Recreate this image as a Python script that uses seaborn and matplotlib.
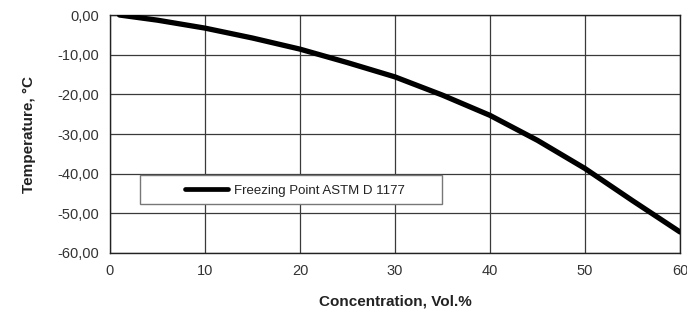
import matplotlib
matplotlib.use("Agg")
import matplotlib.pyplot as plt
import seaborn as sns
import pandas as pd
from matplotlib.patches import Rectangle
from matplotlib.lines import Line2D

concentration = [1, 5, 10, 15, 20, 25, 30, 35, 40, 45, 50, 55, 60]
freezing_point = [0.0, -1.3, -3.3, -5.8, -8.6, -12.0, -15.6, -20.2, -25.3, -31.6, -38.7, -46.8, -54.7]
series_name = "Freezing Point ASTM D 1177"
x_ticks = [0, 10, 20, 30, 40, 50, 60]
y_ticks = [0, -10, -20, -30, -40, -50, -60]
y_tick_labels = ["0,00", "-10,00", "-20,00", "-30,00", "-40,00", "-50,00", "-60,00"]
x_label = "Concentration, Vol.%"
y_label = "Temperature, °C"

sns.set_theme(style="white")
plt.rcParams["font.family"] = ["Liberation Sans", "DejaVu Sans"]

df = pd.DataFrame({"x": concentration, "y": freezing_point, "s": series_name})

fig = plt.figure(figsize=(6.87, 3.13), dpi=100)
ax = fig.add_axes([0.1601, 0.1917, 0.8297, 0.7603])

sns.lineplot(data=df, x="x", y="y", hue="s", palette=["black"], linewidth=3.8,
             ax=ax, legend=False, zorder=5)

ax.set_xlim(0, 60)
ax.set_ylim(-60, 0)
ax.set_xticks(x_ticks)
ax.set_xticklabels([str(t) for t in x_ticks])
ax.set_yticks(y_ticks)
ax.set_yticklabels(y_tick_labels)
ax.grid(True, color="#3a3a3a", linewidth=0.9)
ax.set_axisbelow(True)
for s in ax.spines.values():
    s.set_color("#222222")
    s.set_linewidth(1.0)
ax.tick_params(axis="both", which="major", direction="out", length=4, width=1,
               color="#222222", labelsize=10.5, labelcolor="#333333", pad=4)

ax.set_xlabel(x_label, fontsize=11, fontweight="bold", color="#222222", labelpad=12)
ax.set_ylabel(y_label, fontsize=11, fontweight="bold", color="#222222", labelpad=15)

# legend box
box = Rectangle((0.0526, 0.207), 0.53, 0.122, transform=ax.transAxes,
                facecolor="white", edgecolor="#777777", linewidth=1.0, zorder=6)
ax.add_patch(box)
handle = Line2D([], [], color="black", linewidth=3.4)
leg = ax.legend([handle], [series_name], loc="center",
                bbox_to_anchor=(0.0526 + 0.272, 0.207 + 0.055), frameon=False,
                fontsize=9.5, handlelength=3.3, handletextpad=0.45)
leg.set_zorder(7)
for t in leg.get_texts():
    t.set_color("#222222")

fig.savefig("out.png", dpi=100)
